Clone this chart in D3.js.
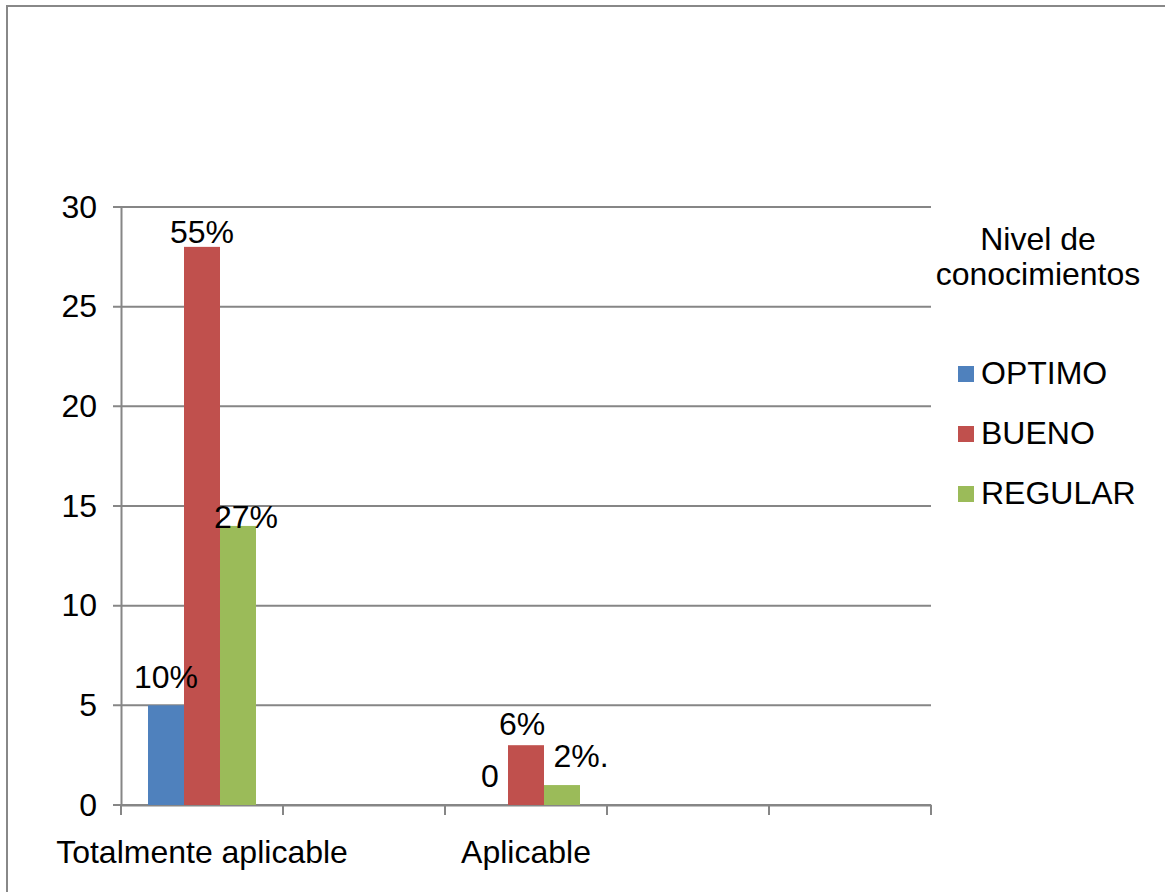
<!DOCTYPE html>
<html><head><meta charset="utf-8">
<script src="https://cdn.jsdelivr.net/npm/d3@7"></script>
<style>
html,body{margin:0;padding:0;background:#fff;}
svg{display:block;font-family:"Liberation Sans",Arial,sans-serif;}
</style></head>
<body>
<svg id="chart" width="1165" height="892"></svg>
<script>
// ---- data ----
const categories = ["Totalmente aplicable", "c2", "Aplicable", "c4", "c5"];
const categoryLabels = ["Totalmente aplicable", "", "Aplicable", "", ""];
const series = ["OPTIMO", "BUENO", "REGULAR"];
const optimo  = [5, null, 0, null, null];
const bueno   = [28, null, 3, null, null];
const regular = [14, null, 1, null, null];
const labelsOptimo  = ["10%", null, "0", null, null];
const labelsBueno   = ["55%", null, "6%", null, null];
const labelsRegular = ["27%", null, "2%.", null, null];
const yTicks = [0, 5, 10, 15, 20, 25, 30];
const legendTitle = ["Nivel de", "conocimientos"];

(function () {
// ---- styling ----
const colors = {OPTIMO: "#4F81BD", BUENO: "#C0504D", REGULAR: "#9BBB59"};
const labelOffset = { // dx from bar centre, dy of baseline from bar top
  "OPTIMO|0": [0, -17], "BUENO|0": [0, -4], "REGULAR|0": [8, 2],
  "OPTIMO|2": [0, -18], "BUENO|2": [-4, -10], "REGULAR|2": [19, -18]
};
const valuesBy = {OPTIMO: optimo, BUENO: bueno, REGULAR: regular};
const labelsBy = {OPTIMO: labelsOptimo, BUENO: labelsBueno, REGULAR: labelsRegular};

const svg = d3.select("#chart");
const gridColor = "#868686";
const fs = 32;

// frame
svg.append("rect").attr("x", 7).attr("y", 6).attr("width", 1170).attr("height", 900)
  .attr("fill", "none").attr("stroke", "#888").attr("stroke-width", 2);

const pLeft = 121, pRight = 931, pTop = 207, pBottom = 805;
const x0 = d3.scaleBand().domain(categories).range([pLeft, pRight]).paddingInner(0).paddingOuter(0);
const x1 = d3.scaleBand().domain(series).range([0, x0.bandwidth()]).paddingInner(0).paddingOuter(0.75);
const y = d3.scaleLinear().domain([0, 30]).range([pBottom, pTop]);

// gridlines
svg.append("g").selectAll("line").data(yTicks).join("line")
  .attr("x1", pLeft - 8).attr("x2", pRight)
  .attr("y1", d => y(d)).attr("y2", d => y(d))
  .attr("stroke", gridColor).attr("stroke-width", 2);

// y axis
const yAxis = svg.append("g").attr("transform", `translate(${pLeft},0)`)
  .call(d3.axisLeft(y).tickValues(yTicks).tickSize(0).tickPadding(24));
yAxis.select(".domain").attr("stroke", gridColor).attr("stroke-width", 2);
yAxis.selectAll("text").attr("font-size", fs).attr("fill", "#000")
  .attr("font-family", "Liberation Sans, Arial, sans-serif");

// x axis
const xAxis = svg.append("g").attr("transform", `translate(0,${pBottom})`)
  .call(d3.axisBottom(x0).tickSize(0).tickFormat((d, i) => categoryLabels[i]).tickPadding(35));
xAxis.select(".domain").attr("stroke", gridColor).attr("stroke-width", 2);
xAxis.selectAll("text").attr("font-size", fs).attr("fill", "#000")
  .attr("font-family", "Liberation Sans, Arial, sans-serif");
// category boundary ticks
const bounds = categories.map(c => x0(c)).concat([x0(categories[categories.length-1]) + x0.bandwidth()]);
svg.append("g").selectAll("line").data(bounds).join("line")
  .attr("x1", d => d).attr("x2", d => d).attr("y1", pBottom).attr("y2", pBottom + 10)
  .attr("stroke", gridColor).attr("stroke-width", 2);

// bars
const barData = [];
categories.forEach((c, i) => series.forEach(s => {
  const v = valuesBy[s][i];
  if (v !== null) barData.push({c, i, s, v, label: labelsBy[s][i]});
}));
svg.append("g").selectAll("rect").data(barData.filter(d => d.v > 0)).join("rect")
  .attr("x", d => x0(d.c) + x1(d.s)).attr("width", x1.bandwidth())
  .attr("y", d => y(d.v)).attr("height", d => y(0) - y(d.v))
  .attr("fill", d => colors[d.s]);

// data labels
svg.append("g").selectAll("text").data(barData.filter(d => d.label)).join("text")
  .attr("x", d => x0(d.c) + x1(d.s) + x1.bandwidth() / 2 + (labelOffset[d.s + "|" + d.i] || [0, 0])[0])
  .attr("y", d => y(d.v) + (labelOffset[d.s + "|" + d.i] || [0, -4])[1])
  .attr("text-anchor", "middle").attr("font-size", fs).attr("fill", "#000")
  .text(d => d.label);

// legend
const lg = svg.append("g");
lg.selectAll("text.title").data(legendTitle).join("text").attr("class", "title")
  .attr("x", 1038).attr("y", (d, i) => 250 + i * 35)
  .attr("text-anchor", "middle").attr("font-size", fs).attr("fill", "#000").text(d => d);
const items = lg.selectAll("g.item").data(series).join("g").attr("class", "item")
  .attr("transform", (d, i) => `translate(958,${366 + i * 60})`);
items.append("rect").attr("width", 16).attr("height", 16).attr("fill", d => colors[d]);
items.append("text").attr("x", 23).attr("y", 18).attr("font-size", fs).attr("fill", "#000").text(d => d);
})();
</script>
</body></html>
